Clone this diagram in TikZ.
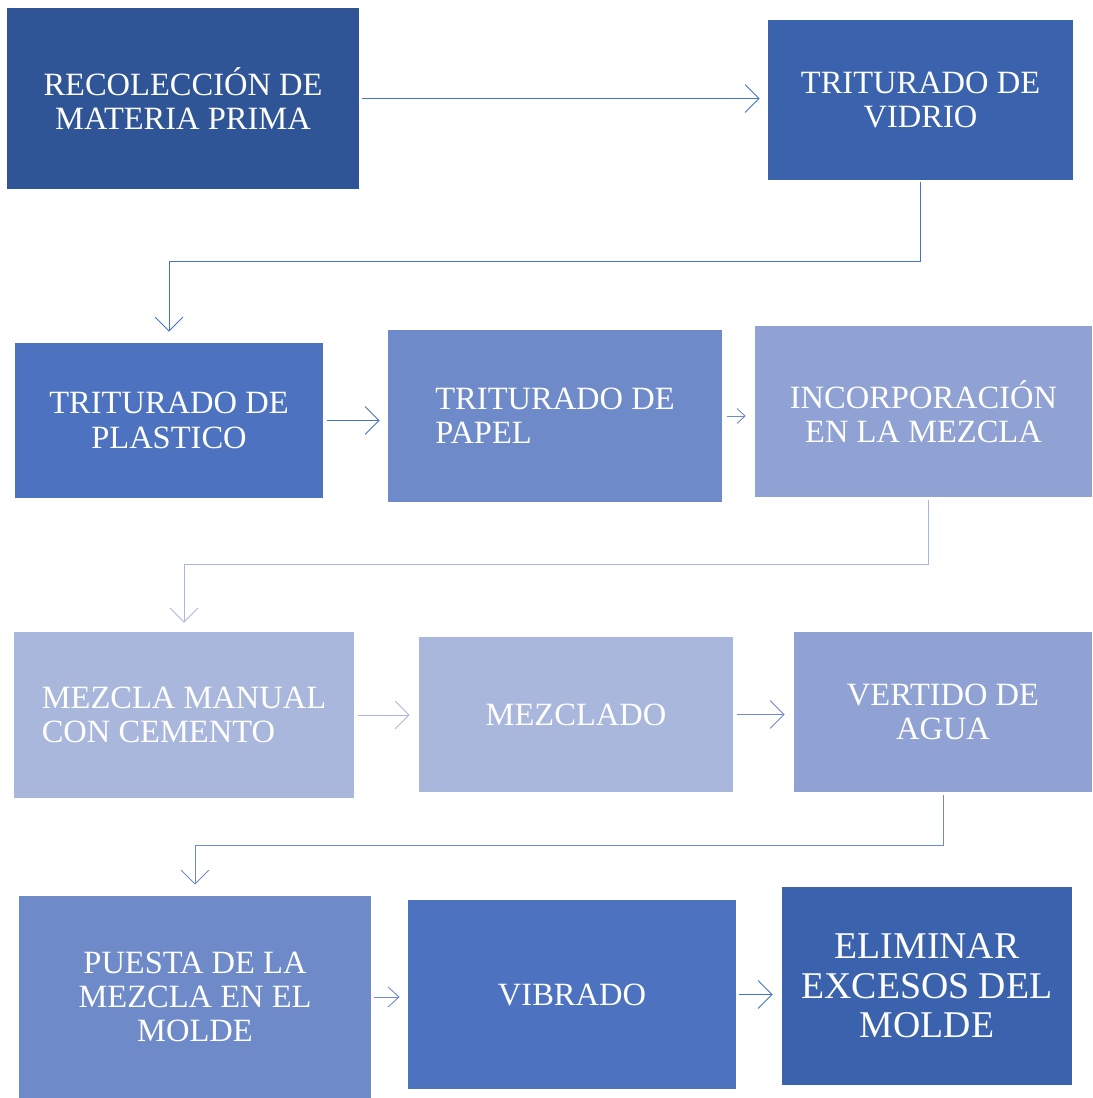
\documentclass[tikz,border=0pt]{standalone}
\usepackage{fontspec}
\setmainfont{Liberation Serif}
\usetikzlibrary{arrows.meta}

\definecolor{boxA}{HTML}{2F5597}
\definecolor{boxB}{HTML}{3B62AC}
\definecolor{boxC}{HTML}{4C72C0}
\definecolor{boxD}{HTML}{6E8AC8}
\definecolor{boxE}{HTML}{8FA2D3}
\definecolor{boxF}{HTML}{A9B7DD}
\definecolor{lineA}{HTML}{4472C4}
\definecolor{lineB}{HTML}{6E8AC8}
\definecolor{lineC}{HTML}{A9B7DD}

\tikzset{
	stepbox/.style={rectangle, inner sep=0pt, text=white, align=center,
		font=\fontsize{18.5}{19.5}\selectfont},
	link/.style={-{Straight Barb[length=0.28cm,width=0.56cm]}, line width=0.5pt, lineA},
}

\begin{document}
\begin{tikzpicture}[x=0.02cm, y=-0.02cm]
	\useasboundingbox (0,0) rectangle (1092,1098);

	\node[stepbox, fill=boxA, minimum width=7.04cm, minimum height=3.62cm] (rec) at (183,98.5) {RECOLECCIÓN DE\\MATERIA PRIMA};
	\node[stepbox, fill=boxB, minimum width=6.1cm, minimum height=3.2cm] (vid) at (920.5,100) {TRITURADO DE\\VIDRIO};

	\node[stepbox, fill=boxC, minimum width=6.16cm, minimum height=3.1cm] (pla) at (169,420.5) {TRITURADO DE\\PLASTICO};
	\node[stepbox, fill=boxD, minimum width=6.68cm, minimum height=3.44cm, align=left] (pap) at (555,416) {TRITURADO DE\\PAPEL};
	\node[stepbox, fill=boxE, minimum width=6.74cm, minimum height=3.42cm] (inc) at (923.5,411.5) {INCORPORACIÓN\\EN LA MEZCLA};

	\node[stepbox, fill=boxF, minimum width=6.8cm, minimum height=3.32cm, align=left] (man) at (184,715) {MEZCLA MANUAL\\CON CEMENTO};
	\node[stepbox, fill=boxF, minimum width=6.28cm, minimum height=3.1cm] (mez) at (576,714.5) {MEZCLADO};
	\node[stepbox, fill=boxE, minimum width=5.96cm, minimum height=3.2cm] (ver) at (943,712) {VERTIDO DE\\AGUA};

	\node[stepbox, fill=boxD, minimum width=7.04cm, minimum height=4.04cm] (pue) at (195,997) {PUESTA DE LA\\MEZCLA EN EL\\MOLDE};
	\node[stepbox, fill=boxC, minimum width=6.56cm, minimum height=3.78cm] (vib) at (572,994.5) {VIBRADO};
	\node[stepbox, fill=boxB, minimum width=5.8cm, minimum height=3.96cm, font=\fontsize{21.5}{22.5}\selectfont] (eli) at (927,986) {ELIMINAR\\EXCESOS DEL\\MOLDE};

	\draw[link, shorten <=0.06cm, shorten >=0.16cm] (rec.east) -- (rec.east -| vid.west);
	\draw[link, shorten <=0.04cm, shorten >=0.22cm] (vid.south) -- ++(0,81) -| (pla.north);

	\draw[link, shorten <=0.08cm, shorten >=0.16cm] (pla.east) -- (pla.east -| pap.west);
	\draw[link, lineB, shorten <=0.1cm, shorten >=0.18cm, -{Straight Barb[length=0.16cm,width=0.3cm]}] (pap.east) -- (pap.east -| inc.west);
	\draw[link, lineC, shorten <=0.06cm, shorten >=0.18cm] ([xshift=0.09cm]inc.south) -- ++(0,67) -| (man.north);

	\draw[link, lineC, shorten <=0.08cm, shorten >=0.18cm] (man.east) -- (man.east -| mez.west);
	\draw[link, lineB, shorten <=0.08cm, shorten >=0.18cm] (mez.east) -- (mez.east -| ver.west);
	\draw[link, lineB, shorten <=0.06cm, shorten >=0.22cm] (ver.south) -- ++(0,53) -| (pue.north);

	\draw[link, lineB, shorten <=0.06cm, shorten >=0.16cm, -{Straight Barb[length=0.22cm,width=0.4cm]}] (pue.east) -- (pue.east -| vib.west);
	\draw[link, shorten <=0.06cm, shorten >=0.18cm] (vib.east) -- (vib.east -| eli.west);
\end{tikzpicture}
\end{document}
